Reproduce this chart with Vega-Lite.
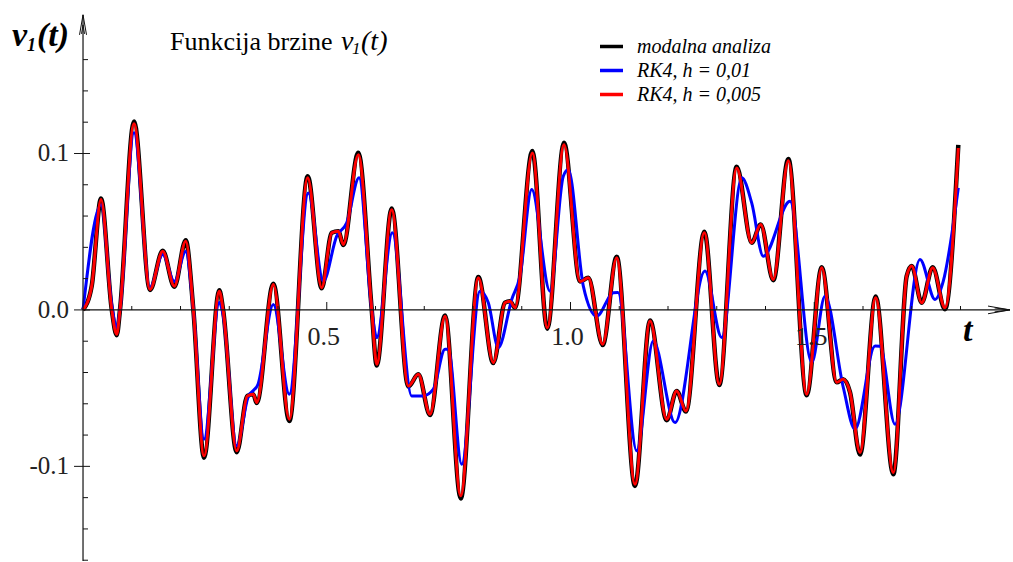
{
  "$schema": "https://vega.github.io/schema/vega-lite/v6.json",
  "width": 1013,
  "height": 562,
  "padding": 0,
  "autosize": {"type": "fit", "contains": "padding"},
  "background": "white",
  "config": {"view": {"stroke": null}, "font": "Liberation Serif", "axis": {"disable": true}, "legend": {"labelFont": "Liberation Serif", "labelFontStyle": "italic"}},
  "datasets": {
    "series": [
      {"series":"modalna analiza","t":0,"v":0},{"series":"modalna analiza","t":0.0178,"v":0.0152},{"series":"modalna analiza","t":0.0369,"v":0.0712},{"series":"modalna analiza","t":0.0589,"v":0.0003},{"series":"modalna analiza","t":0.0691,"v":-0.0162},{"series":"modalna analiza","t":0.0759,"v":0.0003},{"series":"modalna analiza","t":0.1046,"v":0.1205},{"series":"modalna analiza","t":0.1374,"v":0.0128},{"series":"modalna analiza","t":0.1635,"v":0.0378},{"series":"modalna analiza","t":0.1873,"v":0.0148},{"series":"modalna analiza","t":0.2107,"v":0.0445},{"series":"modalna analiza","t":0.2263,"v":0.0003},{"series":"modalna analiza","t":0.2482,"v":-0.0945},{"series":"modalna analiza","t":0.2796,"v":0.0125},{"series":"modalna analiza","t":0.2872,"v":0.0003},{"series":"modalna analiza","t":0.3153,"v":-0.0910},{"series":"modalna analiza","t":0.337,"v":-0.055},{"series":"modalna analiza","t":0.3493,"v":-0.0539},{"series":"modalna analiza","t":0.3563,"v":-0.0595},{"series":"modalna analiza","t":0.3904,"v":0.0168},{"series":"modalna analiza","t":0.4232,"v":-0.071},{"series":"modalna analiza","t":0.4609,"v":0.0855},{"series":"modalna analiza","t":0.4896,"v":0.0138},{"series":"modalna analiza","t":0.5102,"v":0.0493},{"series":"modalna analiza","t":0.5237,"v":0.0503},{"series":"modalna analiza","t":0.534,"v":0.0415},{"series":"modalna analiza","t":0.5647,"v":0.1005},{"series":"modalna analiza","t":0.5922,"v":0.0003},{"series":"modalna analiza","t":0.6025,"v":-0.0355},{"series":"modalna analiza","t":0.6332,"v":0.0648},{"series":"modalna analiza","t":0.6673,"v":-0.049},{"series":"modalna analiza","t":0.6878,"v":-0.0412},{"series":"modalna analiza","t":0.7118,"v":-0.0672},{"series":"modalna analiza","t":0.7426,"v":-0.0035},{"series":"modalna analiza","t":0.7748,"v":-0.1205},{"series":"modalna analiza","t":0.8109,"v":0.021},{"series":"modalna analiza","t":0.8416,"v":-0.034},{"series":"modalna analiza","t":0.8656,"v":0.0046},{"series":"modalna analiza","t":0.8759,"v":0.0056},{"series":"modalna analiza","t":0.8862,"v":0.0014},{"series":"modalna analiza","t":0.9217,"v":0.1015},{"series":"modalna analiza","t":0.9524,"v":-0.012},{"series":"modalna analiza","t":0.9867,"v":0.1068},{"series":"modalna analiza","t":1.0195,"v":0.0182},{"series":"modalna analiza","t":1.0365,"v":0.0205},{"series":"modalna analiza","t":1.066,"v":-0.0225},{"series":"modalna analiza","t":1.0948,"v":0.034},{"series":"modalna analiza","t":1.1323,"v":-0.1125},{"series":"modalna analiza","t":1.1631,"v":-0.0068},{"series":"modalna analiza","t":1.1973,"v":-0.0705},{"series":"modalna analiza","t":1.2178,"v":-0.0518},{"series":"modalna analiza","t":1.2369,"v":-0.065},{"series":"modalna analiza","t":1.2745,"v":0.05},{"series":"modalna analiza","t":1.3052,"v":-0.048},{"series":"modalna analiza","t":1.3409,"v":0.0915},{"series":"modalna analiza","t":1.3717,"v":0.0429},{"series":"modalna analiza","t":1.3901,"v":0.0546},{"series":"modalna analiza","t":1.416,"v":0.019},{"series":"modalna analiza","t":1.4468,"v":0.0965},{"series":"modalna analiza","t":1.4845,"v":-0.0545},{"series":"modalna analiza","t":1.5153,"v":0.0272},{"series":"modalna analiza","t":1.5461,"v":-0.0463},{"series":"modalna analiza","t":1.559,"v":-0.0444},{"series":"modalna analiza","t":1.5733,"v":-0.0526},{"series":"modalna analiza","t":1.5938,"v":-0.0925},{"series":"modalna analiza","t":1.626,"v":0.0085},{"series":"modalna analiza","t":1.6622,"v":-0.105},{"series":"modalna analiza","t":1.6896,"v":0.0216},{"series":"modalna analiza","t":1.6999,"v":0.028},{"series":"modalna analiza","t":1.7204,"v":0.0046},{"series":"modalna analiza","t":1.7429,"v":0.0272},{"series":"modalna analiza","t":1.7682,"v":0.0005},{"series":"modalna analiza","t":1.7955,"v":0.1055},

      {"series":"RK4, h = 0,01","t":0,"v":0},{"series":"RK4, h = 0,01","t":0.0369,"v":0.0673},{"series":"RK4, h = 0,01","t":0.0589,"v":0.0035},{"series":"RK4, h = 0,01","t":0.0691,"v":-0.0112},{"series":"RK4, h = 0,01","t":0.0759,"v":0.0003},{"series":"RK4, h = 0,01","t":0.1046,"v":0.1133},{"series":"RK4, h = 0,01","t":0.1374,"v":0.0144},{"series":"RK4, h = 0,01","t":0.1635,"v":0.0354},{"series":"RK4, h = 0,01","t":0.1873,"v":0.0182},{"series":"RK4, h = 0,01","t":0.2107,"v":0.0373},{"series":"RK4, h = 0,01","t":0.2263,"v":0.0003},{"series":"RK4, h = 0,01","t":0.2482,"v":-0.0826},{"series":"RK4, h = 0,01","t":0.2796,"v":0.0048},{"series":"RK4, h = 0,01","t":0.2872,"v":-0.0029},{"series":"RK4, h = 0,01","t":0.3153,"v":-0.0869},{"series":"RK4, h = 0,01","t":0.3385,"v":-0.0558},{"series":"RK4, h = 0,01","t":0.359,"v":-0.0475},{"series":"RK4, h = 0,01","t":0.3904,"v":0.0035},{"series":"RK4, h = 0,01","t":0.4232,"v":-0.0539},{"series":"RK4, h = 0,01","t":0.4622,"v":0.0748},{"series":"RK4, h = 0,01","t":0.4929,"v":0.0184},{"series":"RK4, h = 0,01","t":0.5204,"v":0.0471},{"series":"RK4, h = 0,01","t":0.5409,"v":0.0556},{"series":"RK4, h = 0,01","t":0.5662,"v":0.0844},{"series":"RK4, h = 0,01","t":0.5922,"v":0.0003},{"series":"RK4, h = 0,01","t":0.6025,"v":-0.0177},{"series":"RK4, h = 0,01","t":0.6345,"v":0.0493},{"series":"RK4, h = 0,01","t":0.6742,"v":-0.055},{"series":"RK4, h = 0,01","t":0.6981,"v":-0.055},{"series":"RK4, h = 0,01","t":0.7186,"v":-0.0507},{"series":"RK4, h = 0,01","t":0.7426,"v":-0.0252},{"series":"RK4, h = 0,01","t":0.7493,"v":-0.0252},{"series":"RK4, h = 0,01","t":0.7768,"v":-0.0986},{"series":"RK4, h = 0,01","t":0.8144,"v":0.012},{"series":"RK4, h = 0,01","t":0.8314,"v":0.0046},{"series":"RK4, h = 0,01","t":0.8519,"v":-0.0241},{"series":"RK4, h = 0,01","t":0.8794,"v":0.0067},{"series":"RK4, h = 0,01","t":0.8964,"v":0.0216},{"series":"RK4, h = 0,01","t":0.9204,"v":0.0769},{"series":"RK4, h = 0,01","t":0.9579,"v":0.012},{"series":"RK4, h = 0,01","t":0.9852,"v":0.0854},{"series":"RK4, h = 0,01","t":0.9955,"v":0.0897},{"series":"RK4, h = 0,01","t":1.0263,"v":0.0152},{"series":"RK4, h = 0,01","t":1.0537,"v":-0.004},{"series":"RK4, h = 0,01","t":1.0878,"v":0.011},{"series":"RK4, h = 0,01","t":1.0974,"v":0.0112},{"series":"RK4, h = 0,01","t":1.1358,"v":-0.0901},{"series":"RK4, h = 0,01","t":1.1698,"v":-0.0199},{"series":"RK4, h = 0,01","t":1.2144,"v":-0.072},{"series":"RK4, h = 0,01","t":1.2759,"v":0.0248},{"series":"RK4, h = 0,01","t":1.3102,"v":-0.0177},{"series":"RK4, h = 0,01","t":1.3512,"v":0.0844},{"series":"RK4, h = 0,01","t":1.3717,"v":0.0684},{"series":"RK4, h = 0,01","t":1.3955,"v":0.0343},{"series":"RK4, h = 0,01","t":1.4503,"v":0.0694},{"series":"RK4, h = 0,01","t":1.4948,"v":-0.0337},{"series":"RK4, h = 0,01","t":1.522,"v":0.0088},{"series":"RK4, h = 0,01","t":1.5596,"v":-0.0496},{"series":"RK4, h = 0,01","t":1.5836,"v":-0.0763},{"series":"RK4, h = 0,01","t":1.6246,"v":-0.0231},{"series":"RK4, h = 0,01","t":1.6349,"v":-0.0233},{"series":"RK4, h = 0,01","t":1.6656,"v":-0.0731},{"series":"RK4, h = 0,01","t":1.7169,"v":0.0322},{"series":"RK4, h = 0,01","t":1.7477,"v":0.0067},{"series":"RK4, h = 0,01","t":1.7647,"v":0.0184},{"series":"RK4, h = 0,01","t":1.7955,"v":0.078},

      {"series":"RK4, h = 0,005","t":0,"v":0},{"series":"RK4, h = 0,005","t":0.0178,"v":0.0152},{"series":"RK4, h = 0,005","t":0.0369,"v":0.0705},{"series":"RK4, h = 0,005","t":0.0589,"v":0.0003},{"series":"RK4, h = 0,005","t":0.0691,"v":-0.0156},{"series":"RK4, h = 0,005","t":0.0759,"v":0.0003},{"series":"RK4, h = 0,005","t":0.1046,"v":0.119},{"series":"RK4, h = 0,005","t":0.1374,"v":0.0131},{"series":"RK4, h = 0,005","t":0.1635,"v":0.0375},{"series":"RK4, h = 0,005","t":0.1873,"v":0.0152},{"series":"RK4, h = 0,005","t":0.2107,"v":0.0439},{"series":"RK4, h = 0,005","t":0.2263,"v":0.0003},{"series":"RK4, h = 0,005","t":0.2482,"v":-0.0933},{"series":"RK4, h = 0,005","t":0.2796,"v":0.012},{"series":"RK4, h = 0,005","t":0.2872,"v":0.0003},{"series":"RK4, h = 0,005","t":0.3153,"v":-0.0901},{"series":"RK4, h = 0,005","t":0.337,"v":-0.055},{"series":"RK4, h = 0,005","t":0.3493,"v":-0.0539},{"series":"RK4, h = 0,005","t":0.3563,"v":-0.0592},{"series":"RK4, h = 0,005","t":0.3904,"v":0.0163},{"series":"RK4, h = 0,005","t":0.4232,"v":-0.0699},{"series":"RK4, h = 0,005","t":0.4609,"v":0.0844},{"series":"RK4, h = 0,005","t":0.4896,"v":0.0142},{"series":"RK4, h = 0,005","t":0.5102,"v":0.0493},{"series":"RK4, h = 0,005","t":0.5237,"v":0.0503},{"series":"RK4, h = 0,005","t":0.534,"v":0.0418},{"series":"RK4, h = 0,005","t":0.5647,"v":0.0992},{"series":"RK4, h = 0,005","t":0.5922,"v":0.0003},{"series":"RK4, h = 0,005","t":0.6025,"v":-0.0348},{"series":"RK4, h = 0,005","t":0.6332,"v":0.0641},{"series":"RK4, h = 0,005","t":0.6673,"v":-0.0486},{"series":"RK4, h = 0,005","t":0.6878,"v":-0.0412},{"series":"RK4, h = 0,005","t":0.7118,"v":-0.0667},{"series":"RK4, h = 0,005","t":0.7426,"v":-0.004},{"series":"RK4, h = 0,005","t":0.7748,"v":-0.1188},{"series":"RK4, h = 0,005","t":0.8109,"v":0.0205},{"series":"RK4, h = 0,005","t":0.8416,"v":-0.0337},{"series":"RK4, h = 0,005","t":0.8656,"v":0.0046},{"series":"RK4, h = 0,005","t":0.8759,"v":0.0056},{"series":"RK4, h = 0,005","t":0.8862,"v":0.0014},{"series":"RK4, h = 0,005","t":0.9217,"v":0.1003},{"series":"RK4, h = 0,005","t":0.9524,"v":-0.0114},{"series":"RK4, h = 0,005","t":0.9867,"v":0.1056},{"series":"RK4, h = 0,005","t":1.0195,"v":0.0182},{"series":"RK4, h = 0,005","t":1.0365,"v":0.0205},{"series":"RK4, h = 0,005","t":1.066,"v":-0.022},{"series":"RK4, h = 0,005","t":1.0948,"v":0.0333},{"series":"RK4, h = 0,005","t":1.1323,"v":-0.1114},{"series":"RK4, h = 0,005","t":1.1631,"v":-0.0071},{"series":"RK4, h = 0,005","t":1.1973,"v":-0.0699},{"series":"RK4, h = 0,005","t":1.2178,"v":-0.0518},{"series":"RK4, h = 0,005","t":1.2369,"v":-0.0646},{"series":"RK4, h = 0,005","t":1.2745,"v":0.0493},{"series":"RK4, h = 0,005","t":1.3052,"v":-0.0475},{"series":"RK4, h = 0,005","t":1.3409,"v":0.0907},{"series":"RK4, h = 0,005","t":1.3717,"v":0.0429},{"series":"RK4, h = 0,005","t":1.3901,"v":0.0546},{"series":"RK4, h = 0,005","t":1.416,"v":0.0195},{"series":"RK4, h = 0,005","t":1.4468,"v":0.0954},{"series":"RK4, h = 0,005","t":1.4845,"v":-0.0539},{"series":"RK4, h = 0,005","t":1.5153,"v":0.0269},{"series":"RK4, h = 0,005","t":1.5461,"v":-0.0463},{"series":"RK4, h = 0,005","t":1.559,"v":-0.0444},{"series":"RK4, h = 0,005","t":1.5733,"v":-0.0526},{"series":"RK4, h = 0,005","t":1.5938,"v":-0.0911},{"series":"RK4, h = 0,005","t":1.626,"v":0.0078},{"series":"RK4, h = 0,005","t":1.6622,"v":-0.1039},{"series":"RK4, h = 0,005","t":1.6896,"v":0.0216},{"series":"RK4, h = 0,005","t":1.6999,"v":0.028},{"series":"RK4, h = 0,005","t":1.7204,"v":0.0046},{"series":"RK4, h = 0,005","t":1.7429,"v":0.0269},{"series":"RK4, h = 0,005","t":1.7682,"v":0.0014},{"series":"RK4, h = 0,005","t":1.7955,"v":0.1035}
    ],
    "xticks": [
      {"t":0.1,"level":"minor"},{"t":0.2,"level":"minor"},{"t":0.3,"level":"minor"},{"t":0.4,"level":"minor"},{"t":0.5,"level":"major"},{"t":0.6,"level":"minor"},{"t":0.7,"level":"minor"},{"t":0.8,"level":"minor"},{"t":0.9,"level":"minor"},{"t":1.0,"level":"major"},{"t":1.1,"level":"minor"},{"t":1.2,"level":"minor"},{"t":1.3,"level":"minor"},{"t":1.4,"level":"minor"},{"t":1.5,"level":"major"},{"t":1.6,"level":"minor"},{"t":1.7,"level":"minor"},{"t":1.8,"level":"minor"}
    ],
    "yticks": [
      {"v":-0.16,"level":"minor"},{"v":-0.14,"level":"minor"},{"v":-0.12,"level":"minor"},{"v":-0.1,"level":"major"},{"v":-0.08,"level":"minor"},{"v":-0.06,"level":"minor"},{"v":-0.04,"level":"minor"},{"v":-0.02,"level":"minor"},{"v":0,"level":"major"},{"v":0.02,"level":"minor"},{"v":0.04,"level":"minor"},{"v":0.06,"level":"minor"},{"v":0.08,"level":"minor"},{"v":0.1,"level":"major"},{"v":0.12,"level":"minor"},{"v":0.14,"level":"minor"},{"v":0.16,"level":"minor"}
    ],
    "xlabels": [{"t":0.5,"label":"0.5"},{"t":1.0,"label":"1.0"},{"t":1.5,"label":"1.5"}],
    "ylabels": [{"v":0.1,"label":"0.1"},{"v":0,"label":"0.0"},{"v":-0.1,"label":"-0.1"}]
  },
  "layer": [
    {"data": {"name": "series"}, "transform": [{"filter": "datum.series == 'modalna analiza'"}],
     "mark": {"type": "line", "strokeWidth": 4.5, "interpolate": "monotone"},
     "encoding": {
       "x": {"field": "t", "type": "quantitative", "scale": {"domain": [-0.1703, 1.9077], "nice": false, "zero": false}, "axis": null},
       "y": {"field": "v", "type": "quantitative", "scale": {"domain": [-0.1605, 0.1981], "nice": false, "zero": false}, "axis": null},
       "color": {"field": "series", "type": "nominal",
       "scale": {"domain": ["modalna analiza", "RK4, h = 0,01", "RK4, h = 0,005"], "range": ["#000000", "#0000ff", "#ff0000"]},
       "legend": {"orient": "none", "legendX": 598, "legendY": 33, "title": null, "symbolType": "stroke", "symbolSize": 529, "symbolStrokeWidth": 3.5, "labelFont": "Liberation Serif", "labelFontStyle": "italic", "labelFontSize": 20, "labelColor": "black", "labelOffset": 12, "rowPadding": 0, "labelLimit": 400}}}},
    {"data": {"name": "series"}, "transform": [{"filter": "datum.series == 'RK4, h = 0,01'"}],
     "mark": {"type": "line", "strokeWidth": 3, "interpolate": "monotone"},
     "encoding": {
       "x": {"field": "t", "type": "quantitative"},
       "y": {"field": "v", "type": "quantitative"},
       "color": {"field": "series", "type": "nominal",
       "scale": {"domain": ["modalna analiza", "RK4, h = 0,01", "RK4, h = 0,005"], "range": ["#000000", "#0000ff", "#ff0000"]},
       "legend": {"orient": "none", "legendX": 598, "legendY": 33, "title": null, "symbolType": "stroke", "symbolSize": 529, "symbolStrokeWidth": 3.5, "labelFont": "Liberation Serif", "labelFontStyle": "italic", "labelFontSize": 20, "labelColor": "black", "labelOffset": 12, "rowPadding": 0, "labelLimit": 400}}}},
    {"data": {"name": "series"}, "transform": [{"filter": "datum.series == 'RK4, h = 0,005'"}],
     "mark": {"type": "line", "strokeWidth": 3, "interpolate": "monotone"},
     "encoding": {
       "x": {"field": "t", "type": "quantitative"},
       "y": {"field": "v", "type": "quantitative"},
       "color": {"field": "series", "type": "nominal",
       "scale": {"domain": ["modalna analiza", "RK4, h = 0,01", "RK4, h = 0,005"], "range": ["#000000", "#0000ff", "#ff0000"]},
       "legend": {"orient": "none", "legendX": 598, "legendY": 33, "title": null, "symbolType": "stroke", "symbolSize": 529, "symbolStrokeWidth": 3.5, "labelFont": "Liberation Serif", "labelFontStyle": "italic", "labelFontSize": 20, "labelColor": "black", "labelOffset": 12, "rowPadding": 0, "labelLimit": 400}}}},
    {"data": {"values": [{"n": 1}]}, "mark": {"type": "rule", "color": "#111", "strokeWidth": 1.2},
     "encoding": {"x": {"datum": 0, "type": "quantitative"}, "y": {"datum": -0.1605, "type": "quantitative"}, "y2": {"datum": 0.1886}}},
    {"data": {"values": [{"n": 1}]}, "mark": {"type": "rule", "color": "#111", "strokeWidth": 1.2},
     "encoding": {"x": {"datum": 0, "type": "quantitative"}, "x2": {"datum": 1.8974}, "y": {"datum": 0, "type": "quantitative"}}},
    {"data": {"values": [{"n": 1}]}, "mark": {"type": "point", "shape": "M-0.35,1L0,-1L0.35,1M-0.15,0.9L0,0L0.15,0.9", "filled": false, "stroke": "#111", "strokeWidth": 1, "size": 400, "opacity": 1},
     "encoding": {"x": {"datum": 0, "type": "quantitative"}, "y": {"datum": 0.1822, "type": "quantitative"}}},
    {"data": {"values": [{"n": 1}]}, "mark": {"type": "point", "shape": "M-1,-0.35L1,0L-1,0.35M-0.4,-0.18L1,0L-0.4,0.18", "filled": false, "stroke": "#111", "strokeWidth": 1, "size": 484, "opacity": 1},
     "encoding": {"x": {"datum": 1.879, "type": "quantitative"}, "y": {"datum": 0, "type": "quantitative"}}},
    {"data": {"name": "xticks"}, "transform": [{"filter": "datum.level == 'minor'"}],
     "mark": {"type": "tick", "orient": "vertical", "size": 4, "thickness": 1, "yOffset": -2, "color": "#111", "opacity": 1},
     "encoding": {"x": {"field": "t", "type": "quantitative"}, "y": {"datum": 0, "type": "quantitative"}}},
    {"data": {"name": "xticks"}, "transform": [{"filter": "datum.level == 'major'"}],
     "mark": {"type": "tick", "orient": "vertical", "size": 8, "thickness": 1, "yOffset": -4, "color": "#111", "opacity": 1},
     "encoding": {"x": {"field": "t", "type": "quantitative"}, "y": {"datum": 0, "type": "quantitative"}}},
    {"data": {"name": "yticks"}, "transform": [{"filter": "datum.level == 'minor'"}],
     "mark": {"type": "tick", "orient": "horizontal", "size": 5, "thickness": 1, "xOffset": 2.5, "color": "#111", "opacity": 1},
     "encoding": {"x": {"datum": 0, "type": "quantitative"}, "y": {"field": "v", "type": "quantitative"}}},
    {"data": {"name": "yticks"}, "transform": [{"filter": "datum.level == 'major'"}],
     "mark": {"type": "tick", "orient": "horizontal", "size": 16, "thickness": 1, "xOffset": -1, "color": "#111", "opacity": 1},
     "encoding": {"x": {"datum": 0, "type": "quantitative"}, "y": {"field": "v", "type": "quantitative"}}},
    {"data": {"name": "xlabels"},
     "mark": {"type": "text", "align": "center", "baseline": "alphabetic", "dy": 35, "dx": -3, "fontSize": 26, "font": "Liberation Serif", "color": "#222"},
     "encoding": {"x": {"field": "t", "type": "quantitative"}, "y": {"datum": 0, "type": "quantitative"}, "text": {"field": "label"}}},
    {"data": {"name": "ylabels"},
     "mark": {"type": "text", "align": "right", "baseline": "middle", "dx": -14, "fontSize": 25, "font": "Liberation Serif", "color": "#222"},
     "encoding": {"x": {"datum": 0, "type": "quantitative"}, "y": {"field": "v", "type": "quantitative"}, "text": {"field": "label"}}},
    {"data": {"values": [{"label": "Funkcija brzine"}]},
     "mark": {"type": "text", "align": "left", "baseline": "alphabetic", "fontSize": 26, "font": "Liberation Serif", "color": "black"},
     "encoding": {"x": {"datum": 0.1785, "type": "quantitative"}, "y": {"datum": 0.1662, "type": "quantitative"}, "text": {"field": "label"}}},
    {"data": {"values": [{"label": "v"}]},
     "mark": {"type": "text", "align": "left", "baseline": "alphabetic", "fontSize": 28, "fontStyle": "italic", "font": "Liberation Serif", "color": "black"},
     "encoding": {"x": {"datum": 0.5292, "type": "quantitative"}, "y": {"datum": 0.1662, "type": "quantitative"}, "text": {"field": "label"}}},
    {"data": {"values": [{"label": "1"}]},
     "mark": {"type": "text", "align": "left", "baseline": "alphabetic", "fontSize": 17, "fontStyle": "italic", "font": "Liberation Serif", "color": "black"},
     "encoding": {"x": {"datum": 0.5518, "type": "quantitative"}, "y": {"datum": 0.1637, "type": "quantitative"}, "text": {"field": "label"}}},
    {"data": {"values": [{"label": "(t)"}]},
     "mark": {"type": "text", "align": "left", "baseline": "alphabetic", "fontSize": 28, "fontStyle": "italic", "font": "Liberation Serif", "color": "black"},
     "encoding": {"x": {"datum": 0.5703, "type": "quantitative"}, "y": {"datum": 0.1662, "type": "quantitative"}, "text": {"field": "label"}}},
    {"data": {"values": [{"label": "v"}]},
     "mark": {"type": "text", "align": "left", "baseline": "alphabetic", "fontSize": 34, "fontStyle": "italic", "fontWeight": "bold", "font": "Liberation Serif", "color": "black"},
     "encoding": {"x": {"datum": -0.1456, "type": "quantitative"}, "y": {"datum": 0.1688, "type": "quantitative"}, "text": {"field": "label"}}},
    {"data": {"values": [{"label": "1"}]},
     "mark": {"type": "text", "align": "left", "baseline": "alphabetic", "fontSize": 18, "fontStyle": "italic", "fontWeight": "bold", "font": "Liberation Serif", "color": "black"},
     "encoding": {"x": {"datum": -0.1149, "type": "quantitative"}, "y": {"datum": 0.1656, "type": "quantitative"}, "text": {"field": "label"}}},
    {"data": {"values": [{"label": "(t)"}]},
     "mark": {"type": "text", "align": "left", "baseline": "alphabetic", "fontSize": 34, "fontStyle": "italic", "fontWeight": "bold", "font": "Liberation Serif", "color": "black"},
     "encoding": {"x": {"datum": -0.0944, "type": "quantitative"}, "y": {"datum": 0.1688, "type": "quantitative"}, "text": {"field": "label"}}},
    {"data": {"values": [{"label": "t"}]},
     "mark": {"type": "text", "align": "left", "baseline": "alphabetic", "fontSize": 34, "fontStyle": "italic", "fontWeight": "bold", "font": "Liberation Serif", "color": "black"},
     "encoding": {"x": {"datum": 1.8051, "type": "quantitative"}, "y": {"datum": -0.0201, "type": "quantitative"}, "text": {"field": "label"}}}
  ]
}
